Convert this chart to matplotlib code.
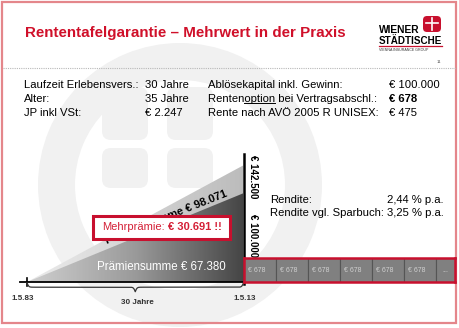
import numpy as np
import matplotlib

matplotlib.use("Agg")

import matplotlib.pyplot as plt  # noqa: E402
from matplotlib.colors import LinearSegmentedColormap  # noqa: E402
from matplotlib.patches import Polygon, Rectangle, FancyBboxPatch, Wedge  # noqa: E402

plt.rcParams["font.family"] = ["Liberation Sans", "DejaVu Sans"]

RED = "#c8102e"

# ---- Daten ----
title = "Rententafelgarantie – Mehrwert in der Praxis"
info_left_labels = ["Laufzeit Erlebensvers.:", "Alter:", "JP inkl VSt:"]
info_left_values = ["30 Jahre", "35 Jahre", "€ 2.247"]
info_right_labels = ["Ablösekapital inkl. Gewinn:", "Rentenoption bei Vertragsabschl.:",
                     "Rente nach AVÖ 2005 R UNISEX:"]
info_right_values = ["€ 100.000", "€ 678", "€ 475"]
years = [1983, 2013]
date_labels = ["1.5.83", "1.5.13"]
span_label = "30 Jahre"
# Höhe der Keile relativ zum hellen Keil
wedge_heights = [1.0, 0.76]
wedge_labels = ["Prämiensumme € 98.071", "Prämiensumme € 67.380"]
level_labels = ["€ 142.500", "€ 100.000"]
mehr_label = ["Mehrprämie:", "€ 30.691 !!"]
rente_cells = ["€ 678"] * 6 + ["..."]
rendite_labels = ["Rendite:", "Rendite vgl. Sparbuch:"]
rendite_values = ["2,44 % p.a.", "3,25 % p.a."]

W, H = 460, 328
fig = plt.figure(figsize=(W / 100, H / 100), dpi=100)
fig.patch.set_facecolor("white")


def box(x0, y0, x1, y1):
    """Pixelbox (y von oben) -> Figure-Koordinaten."""
    return [x0 / W, 1 - y1 / H, (x1 - x0) / W, (y1 - y0) / H]


# Hintergrund: Wasserzeichen + Rahmen
bg = fig.add_axes([0, 0, 1, 1], zorder=0)
bg.set_xlim(0, W)
bg.set_ylim(H, 0)
bg.axis("off")
wm = "#f1f1f1"
bg.add_patch(Wedge((180, 185), 142, 0, 360, width=37, color=wm, lw=0))
for x0 in (102, 167):
    for y0, hh in ((87, 53), (148, 40)):
        bg.add_patch(FancyBboxPatch((x0, y0), 46, hh,
                                    boxstyle="round,pad=0,rounding_size=9",
                                    fc=wm, ec="none"))
bg.add_patch(Rectangle((2, 2), 454.5, 321, fc="none", ec="#e4868b", lw=1.6))
bg.plot([3, 456], [68, 68], color="#b8b8b8", lw=0.8, ls=(0, (1, 1)))

# Diagramm: Keile
cax = fig.add_axes(box(27, 165, 243.5, 281.7), zorder=2)
light = LinearSegmentedColormap.from_list("light", ["#ececec", "#bcbcbc"])
dark = LinearSegmentedColormap.from_list("dark", ["#d0d0d0", "#9a9a9a", "#454545"])
grad = np.linspace(0, 1, 256).reshape(1, -1)
for h, cmap in zip(wedge_heights, [light, dark]):
    tri = Polygon([(years[0], 0), (years[1], 0), (years[1], h)], closed=True,
                  fc="none", ec="none")
    cax.add_patch(tri)
    im = cax.imshow(grad, cmap=cmap, extent=[years[0], years[1], 0, h],
                    aspect="auto", origin="lower", interpolation="bilinear")
    im.set_clip_path(tri)
cax.set_xlim(years)
cax.set_ylim(0, 1)
cax.axis("off")

px_y = 1 / 116.7            # eine Pixelhöhe in y-Einheiten
px_x = (years[1] - years[0]) / 216.5
cax.plot([years[0] - 7 * px_x, years[1]], [0, 0], color="black", lw=1.3, clip_on=False)
cax.plot([years[0]] * 2, [-4 * px_y, 4 * px_y], color="black", lw=1.2, clip_on=False)
cax.plot([years[1]] * 2, [-2 * px_y, 1.09], color="black", lw=1.8, clip_on=False)

# geschweifte Klammer unter der Laufzeit
beta = 250
xh = np.linspace(0, 0.5, 300)
yh = 1 / (1 + np.exp(-beta * (xh - xh[0]))) + 1 / (1 + np.exp(-beta * (xh - xh[-1])))
yb = np.concatenate((yh, yh[-2::-1]))
xb = years[0] + np.linspace(0, 1, len(yb)) * (years[1] - years[0])
cax.plot(xb, (-1 - (yb - 0.5) * 9) * px_y, color="#333333", lw=0.9, clip_on=False)

# Rentenzahlungen
rcax = fig.add_axes(box(244, 257.7, 455, 281.7), zorder=3)
pos = np.arange(len(rente_cells))
rcax.bar(pos, np.ones(len(pos)), width=1, align="edge", color="#808080",
         edgecolor="#555555", lw=0.8)
for p, lab in zip(pos, rente_cells):
    if lab == "...":
        rcax.text(p + 0.3, 0.45, lab, color="#d8d8d8", fontsize=5, ha="center", va="center")
    else:
        rcax.text(p + 0.12, 0.45, lab, color="#cfcfcf", fontsize=5, ha="left", va="center")
rcax.set_xlim(0, 6.6)
rcax.set_ylim(0, 1)
rcax.set_xticks([])
rcax.set_yticks([])
for s in rcax.spines.values():
    s.set_color(RED)
    s.set_linewidth(1.8)

# Text-Ebene (Pixelkoordinaten)
ov = fig.add_axes([0, 0, 1, 1], zorder=5)
ov.set_xlim(0, W)
ov.set_ylim(H, 0)
ov.axis("off")
ov.patch.set_alpha(0)

ov.text(25, 37.3, title, color="#d0102a", fontsize=10.9, fontweight="bold", va="baseline")

# Logo
ov.text(379, 33, "WIENER", fontsize=7.4, fontweight="bold", va="baseline")
ov.text(379, 43.5, "STÄDTISCHE", fontsize=7.1, fontweight="bold", va="baseline")
ov.plot([379, 442], [45.5, 45.5], color=RED, lw=0.9)
ov.text(379, 51, "VIENNA INSURANCE GROUP", fontsize=2.6, va="baseline", color="#333333")
ov.add_patch(FancyBboxPatch((423, 16), 18, 16, boxstyle="round,pad=0,rounding_size=4",
                            fc=RED, ec="none"))
ov.plot([432, 432], [18, 30], color="white", lw=1.2)
ov.plot([426, 438], [23, 23], color="white", lw=1.2)
ov.text(437, 63, "11", fontsize=3.2, color="#555555", va="baseline")

# Eckdaten
fs = 8.1
baselines = [88.3, 101.7, 115.5]
for i, yb0 in enumerate(baselines):
    ov.text(24, yb0, info_left_labels[i], fontsize=fs, va="baseline")
    ov.text(145, yb0, info_left_values[i], fontsize=fs, va="baseline")
    ov.text(208, yb0, info_right_labels[i], fontsize=fs, va="baseline")
    ov.text(389, yb0, info_right_values[i], fontsize=fs, va="baseline",
            fontweight="bold" if i == 1 else "normal")

# "option" unterstreichen
r = fig.canvas.get_renderer()
t_a = ov.text(208, 0, "Renten", fontsize=fs)
t_b = ov.text(208, 0, "Rentenoption", fontsize=fs)
wa = t_a.get_window_extent(r).width
wb = t_b.get_window_extent(r).width
t_a.remove()
t_b.remove()
ov.plot([208 + wa, 208 + wb], [baselines[1] + 1.6] * 2, color="black", lw=0.7)

# Rendite
for i, yb0 in enumerate([203.3, 216.3]):
    ov.text(270, yb0, rendite_labels[i], fontsize=fs, va="baseline")
    ov.text(444, yb0, rendite_values[i], fontsize=fs, va="baseline", ha="right")

# Beschriftung der Keile
ov.text(107.5, 244.5, wedge_labels[0], fontsize=8, fontweight="bold", rotation=21.6,
        rotation_mode="anchor", ha="left", va="baseline", zorder=3)
ov.text(161, 270, wedge_labels[1], fontsize=8.3, color="white", ha="center", va="baseline")

# Mehrprämie-Box
ov.add_patch(Rectangle((93, 216), 137.5, 22.5, fc="white", ec=RED, lw=2.2, zorder=6))
ov.text(102, 229.5, mehr_label[0], fontsize=8, color="#d41f36", va="baseline", zorder=7)
ov.text(168, 229.5, mehr_label[1], fontsize=8, color="#d41f36", fontweight="bold",
        va="baseline", zorder=7)

# Beträge an der senkrechten Linie (unter der Rentenbox)
cax.text(253, 155, level_labels[0], transform=ov.transData, rotation=-90, fontsize=7,
         fontweight="bold", ha="center", va="top", clip_on=False)
cax.text(253, 214, level_labels[1], transform=ov.transData, rotation=-90, fontsize=7,
         fontweight="bold", ha="center", va="top", clip_on=False)

# Datumsachse
for x, lab in zip([23, 245], date_labels):
    ov.text(x, 298, lab, fontsize=5.8, fontweight="bold", color="#333333",
            ha="center", va="center")
ov.text(137, 302.5, span_label, fontsize=5.8, fontweight="bold", color="#333333",
        ha="center", va="center")

fig.savefig("out.png", dpi=100)
